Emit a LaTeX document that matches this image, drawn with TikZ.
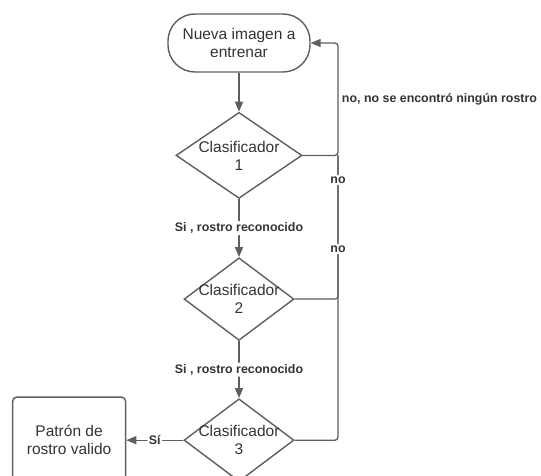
\documentclass[tikz,border=0pt]{standalone}
\usepackage{fontspec}
\setmainfont{Liberation Sans}
\usepackage{xcolor}
\definecolor{linegray}{RGB}{94, 94, 94}
\definecolor{txtgray}{RGB}{51, 51, 51}
\usepackage{tikz}
\usetikzlibrary{shapes.geometric, arrows.meta, positioning}

\begin{document}
\begin{tikzpicture}[x=1pt, y=1pt,
  termbox/.style={draw=linegray, line width=1.4pt, rounded corners=27pt,
              align=center, minimum width=142pt, minimum height=58pt,
              text=txtgray, font=\fontsize{15.5}{18}\selectfont},
  classbox/.style={draw=linegray, line width=1.4pt, diamond, aspect=1.33,
              inner xsep=-5pt, inner ysep=0pt, align=center,
              text=txtgray, font=\fontsize{15.5}{18}\selectfont},
  resbox/.style={draw=linegray, line width=1.4pt, rounded corners=4pt,
              align=center, minimum width=113pt, minimum height=86pt,
              text=txtgray, font=\fontsize{15.5}{18}\selectfont},
  lbl/.style={fill=white, inner sep=1.5pt, text=txtgray,
              font=\fontsize{12.4}{14}\selectfont\bfseries},
  flow/.style={-{Triangle[length=10pt, width=8pt]}, line width=1.3pt,
              linegray, rounded corners=3pt},
  back/.style={line width=1.3pt, linegray, rounded corners=3pt}
]
  \useasboundingbox (0,0) rectangle (541,475);

  % ── Start ──
  \node[termbox] (start) at (239,432) {Nueva imagen a\\entrenar};

  % ── Classifiers ──
  \node[classbox, minimum width=126pt, minimum height=86pt,
        below=39pt of start] (clf1) {Clasificador\\1};
  \node[classbox, below=58pt of clf1] (clf2) {Clasificador\\2};
  \node[classbox, below=57pt of clf2] (clf3) {Clasificador\\3};

  % ── Result ──
  \node[resbox, left=57pt of clf3] (valid) {Patrón de\\rostro valido};

  % ── Rail on the right ──
  \coordinate (rail) at (338,0);

  % ── Arrows ──
  \draw[flow] (start) -- (clf1);
  \draw[flow] (clf1) -- (clf2)
    node[midway, lbl] {Si , rostro reconocido};
  \draw[flow] (clf2) -- (clf3)
    node[midway, lbl] {Si , rostro reconocido};
  \draw[flow] (clf3) -- (valid)
    node[midway, lbl] {Sí};

  \draw[flow] (clf1.east) -- (clf1.east -| rail) -- (start.east -| rail)
    node[pos=0.5, anchor=west, text=txtgray,
         font=\fontsize{12.4}{14}\selectfont\bfseries] {no, no se encontró ningún rostro}
    -- (start.east);
  \draw[back] (clf2.east) -- (clf2.east -| rail) -- (clf1.east -| rail);
  \draw[back] (clf3.east) -- (clf3.east -| rail) -- (clf1.east -| rail);

  % ── "no" labels on the rail ──
  \path (clf2.east -| rail) -- (clf1.east -| rail)
    node[pos=0.83, lbl] {no}
    node[pos=0.35, lbl] {no};

\end{tikzpicture}
\end{document}
